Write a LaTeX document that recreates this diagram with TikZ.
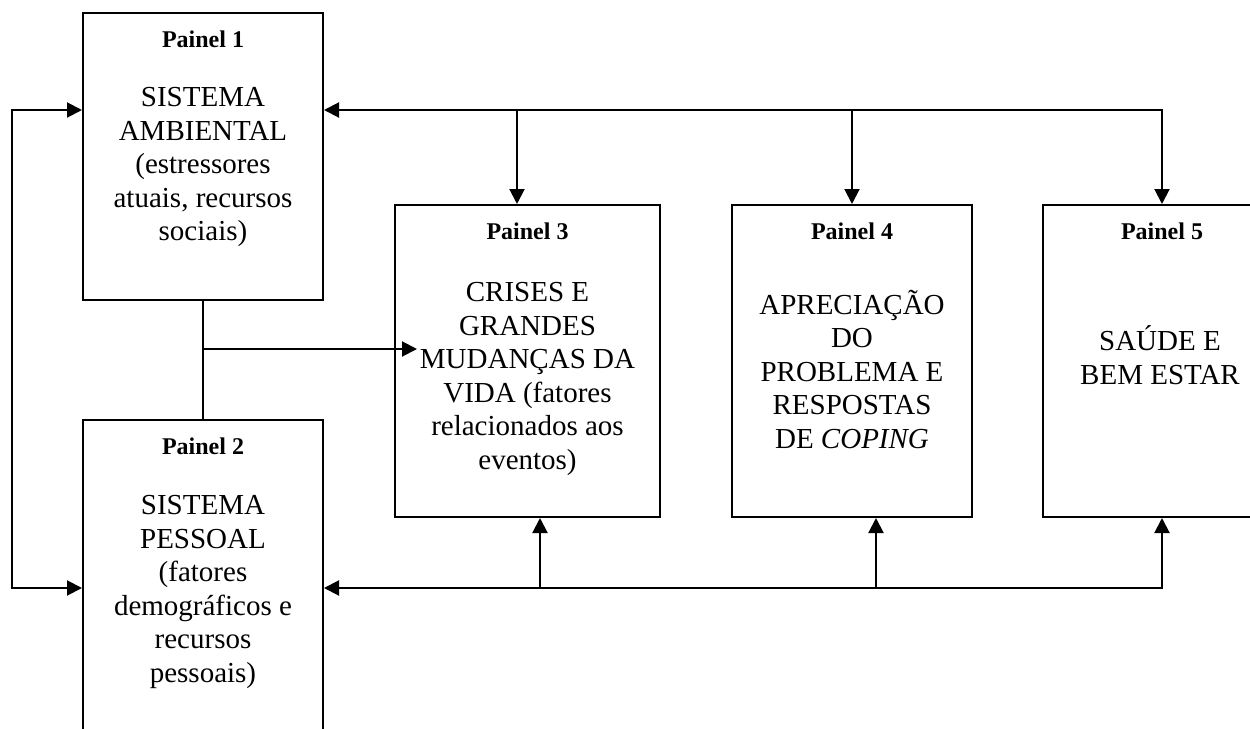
\documentclass[tikz,border=0pt]{standalone}
\usepackage{fontspec}
\setmainfont{Liberation Serif}
\usetikzlibrary{arrows.meta,positioning}

\begin{document}
\begin{tikzpicture}[x=0.5pt,y=-0.5pt,
  painel/.style={draw,line width=1pt,inner sep=0pt},
  titulo/.style={inner sep=0pt,font=\fontsize{12}{14}\selectfont\bfseries},
  corpo/.style={inner sep=0pt,align=center,font=\fontsize{14.5}{16.75}\selectfont},
  linha/.style={line width=1pt},
  ponta/.style={-{Triangle[length=7.5pt,width=7.5pt]}},
  ambas/.style={{Triangle[length=7.5pt,width=7.5pt]}-{Triangle[length=7.5pt,width=7.5pt]}}]
  \path[use as bounding box,clip] (0,0) rectangle (1250,729);

  % paineis
  \node[painel,minimum width=120pt,minimum height=143.5pt] (p1) at (203,156.5) {};
  \node[painel,minimum width=120pt,minimum height=170pt] (p2) at (203,590) {};
  \node[painel,minimum width=132.5pt,minimum height=156pt] (p3) at (527.5,361) {};
  \node[painel,minimum width=120pt,minimum height=156pt] (p4) at (852,361) {};
  \node[painel,minimum width=119pt,minimum height=156pt] (p5) at (1162,361) {};

  \node[titulo,below=9pt of p1.north] (t1) {Painel 1};
  \node[titulo,below=9pt of p2.north] (t2) {Painel 2};
  \node[titulo,below=9pt of p3.north] (t3) {Painel 3};
  \node[titulo,below=9pt of p4.north] (t4) {Painel 4};
  \node[titulo,below=9pt of p5.north] (t5) {Painel 5};

  \node[corpo] (c1) at (203,167) {SISTEMA\\AMBIENTAL\\(estressores\\atuais, recursos\\sociais)};
  \node[corpo] (c2) at (203,592) {SISTEMA\\PESSOAL\\(fatores\\demográficos e\\recursos\\pessoais)};
  \node[corpo] (c3) at (527.5,379) {CRISES E\\GRANDES\\MUDANÇAS DA\\VIDA (fatores\\relacionados aos\\eventos)};
  \node[corpo] (c4) at (852,369) {APRECIAÇÃO\\DO\\PROBLEMA E\\RESPOSTAS\\DE \textit{COPING}};
  \node[corpo] (c5) at (1160,355) {SAÚDE E\\BEM ESTAR};

  % pontos das ligacoes
  \coordinate (topo) at (1162,110);
  \coordinate (base) at (1162,588);
  \coordinate (volta) at (12,0);
  \coordinate (d3) at (517,110);
  \coordinate (d4) at (852,110);
  \coordinate (u3) at (540,588);
  \coordinate (u4) at (876,588);
  \coordinate (ramo) at (203,349);

  \draw[linha,ambas] (p1.west |- topo) -- (volta |- topo) -- (volta |- base) -- (p2.west |- base);
  \draw[linha,ambas] (p1.east |- topo) -- (topo) -- (p5.north);
  \draw[linha,ponta] (d3) -- (d3 |- p3.north);
  \draw[linha,ponta] (d4) -- (p4.north);
  \draw[linha,ambas] (p2.east |- base) -- (base) -- (p5.south);
  \draw[linha,ponta] (u3) -- (u3 |- p3.south);
  \draw[linha,ponta] (u4) -- (u4 |- p4.south);
  \draw[linha] (p1.south) -- (p2.north);
  \draw[linha,ponta,shorten >=-11.5pt] (ramo) -- (ramo -| p3.west);
\end{tikzpicture}
\end{document}
